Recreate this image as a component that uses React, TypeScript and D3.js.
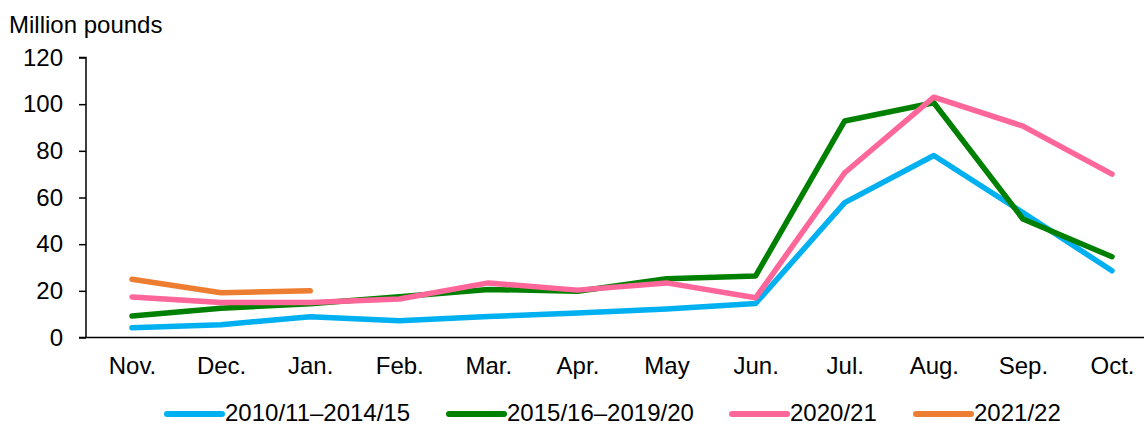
import * as d3 from 'd3';
import { useEffect, useRef } from 'react';

const months = ['Nov.', 'Dec.', 'Jan.', 'Feb.', 'Mar.', 'Apr.', 'May', 'Jun.', 'Jul.', 'Aug.', 'Sep.', 'Oct.'];
const yTicks = [0, 20, 40, 60, 80, 100, 120];

const avg1015 = [4.2, 5.5, 8.9, 7.2, 9.0, 10.5, 12.2, 14.6, 57.8, 78.0, 53.5, 28.6];
const avg1520 = [9.2, 12.5, 14.5, 17.5, 20.6, 19.8, 25.2, 26.4, 92.8, 100.6, 50.8, 34.6];
const y2021 = [17.4, 15.0, 15.0, 16.5, 23.4, 20.3, 23.4, 17.0, 70.6, 103.0, 90.6, 70.0];
const y2122 = [25.0, 19.2, 20.0];

const seriesNames = ['2010/11\u20132014/15', '2015/16\u20132019/20', '2020/21', '2021/22'];
const seriesColors = ['#00b0f0', '#008000', '#ff6699', '#ed7d31'];
const seriesValues = [avg1015, avg1520, y2021, y2122];

export default function App() {
  const ref = useRef<SVGSVGElement>(null);

  useEffect(() => {
    const svg = d3.select(ref.current);
    svg.selectAll('*').remove();

    const width = 1144;
    const margin = { top: 57.5, left: 86, bottom: 337.5 };
    const font = 'Liberation Sans, Arial, sans-serif';
    const fs = 24;

    const x = d3.scalePoint<string>().domain(months).range([132, 1112]);
    const y = d3.scaleLinear().domain([0, 120]).range([margin.bottom, margin.top]);

    // y axis
    const yAxis = svg.append('g').attr('transform', `translate(${margin.left},0)`)
      .call(d3.axisLeft(y).tickValues(yTicks).tickSize(7).tickPadding(16));
    yAxis.select('.domain').attr('stroke', '#000').attr('stroke-width', 1.5).attr('d', `M-7,${margin.top}H0V${margin.bottom}`);
    yAxis.selectAll('.tick line').attr('stroke', '#000').attr('stroke-width', 1.5);
    yAxis.selectAll('.tick text').attr('font-family', font).attr('font-size', fs).attr('fill', '#000');

    // x axis
    const xAxis = svg.append('g').attr('transform', `translate(0,${margin.bottom})`)
      .call(d3.axisBottom(x).tickSize(0).tickPadding(19));
    xAxis.select('.domain').attr('stroke', '#000').attr('stroke-width', 1.5).attr('d', `M${margin.left - 7},0H${width}`);
    xAxis.selectAll('.tick text').attr('font-family', font).attr('font-size', fs).attr('fill', '#000');

    svg.append('text').attr('x', 9).attr('y', 33).attr('font-family', font).attr('font-size', fs)
      .text('Million pounds');

    const line = d3.line<number>().x((_, i) => x(months[i]) as number).y((d) => y(d));

    seriesValues.forEach((vals, i) => {
      svg.append('path').datum(vals).attr('d', line).attr('fill', 'none')
        .attr('stroke', seriesColors[i]).attr('stroke-width', 5.5)
        .attr('stroke-linejoin', 'round').attr('stroke-linecap', 'round');
    });

    // legend
    const legendX = [167, 449, 732, 916];
    const leg = svg.append('g').attr('transform', 'translate(0,413)');
    seriesNames.forEach((name, i) => {
      const g = leg.append('g').attr('transform', `translate(${legendX[i]},0)`);
      g.append('line').attr('x1', 0).attr('x2', 55).attr('y1', 1).attr('y2', 1).attr('stroke', seriesColors[i])
        .attr('stroke-width', 6).attr('stroke-linecap', 'round');
      g.append('text').attr('x', 58).attr('dy', '0.33em').attr('font-family', font)
        .attr('font-size', fs).text(name);
    });
  }, []);

  return (
    <svg ref={ref} width={1144} height={426} style={{ position: 'absolute', left: 0, top: 0, background: '#fff' }} />
  );
}
